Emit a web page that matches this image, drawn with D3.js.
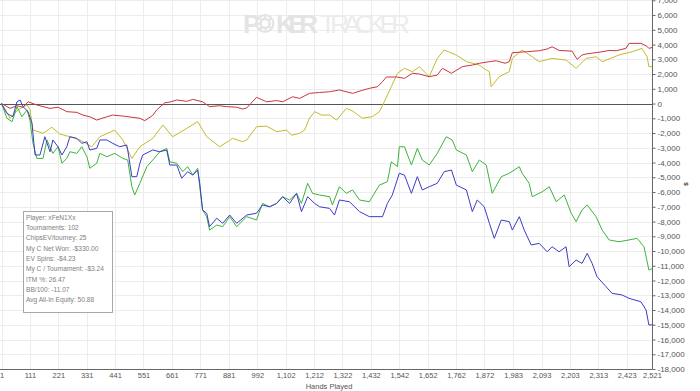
<!DOCTYPE html>
<html>
<head>
<meta charset="utf-8">
<script src="https://cdn.jsdelivr.net/npm/d3@7"></script>
<style>
  html, body { margin: 0; padding: 0; background: #fff; }
  svg { display: block; }
  text { font-family: "Liberation Sans", Arial, sans-serif; }
</style>
</head>
<body>
<svg id="chart"></svg>
<script>
const W = 700, H = 391;

// x ticks as shown on the axis (hands played)
const handTicks = [1, 111, 221, 331, 441, 551, 661, 771, 881, 992, 1102, 1212, 1322,
  1432, 1542, 1652, 1762, 1872, 1983, 2093, 2203, 2313, 2423, 2521];

// [hand, $]
const redLine = [[1,0],[22,-200],[34,-330],[61,-150],[84,-250],[104,120],[138,-100],[189,-330],[220,-250],
  [254,-550],[293,-600],[316,-780],[343,-900],[370,-1120],[409,-900],[432,-780],[471,-850],[510,-940],
  [537,-1000],[556,-1160],[587,-800],[602,-440],[633,50],[653,100],[680,240],[719,150],[742,280],[780,120],
  [807,-210],[846,-150],[873,-210],[912,-250],[935,-370],[951,-300],[989,420],[1028,120],[1067,200],
  [1090,120],[1129,460],[1156,350],[1194,690],[1233,750],[1272,800],[1310,920],[1361,690],[1399,900],
  [1426,1030],[1457,1140],[1477,1480],[1492,1800],[1531,1800],[1562,1710],[1593,2050],[1620,2000],
  [1658,1820],[1689,1930],[1709,2390],[1744,2050],[1786,2500],[1825,2610],[1852,2730],[1891,2840],
  [1918,2900],[1952,2730],[1968,2840],[1980,3450],[2034,3510],[2084,3580],[2115,3700],[2134,3850],
  [2161,3600],[2212,3550],[2227,3100],[2231,3000],[2250,3290],[2266,3360],[2328,3510],[2355,3600],
  [2382,3580],[2420,3740],[2432,4080],[2478,4080],[2500,3900],[2509,3740],[2521,3800]];

const yellowLine = [[1,0],[22,-600],[34,-1000],[61,-500],[73,-330],[100,-100],[111,-400],[123,-1800],
  [162,-2020],[196,-1610],[227,-2070],[266,-2250],[305,-2470],[351,-2930],[382,-2250],[440,-1800],
  [471,-2470],[506,-3720],[537,-2930],[587,-2360],[626,-1460],[664,-2250],[719,-1680],[761,-1230],
  [796,-2250],[846,-2930],[885,-2500],[896,-2360],[935,-2590],[951,-2470],[989,-1570],[1028,-1530],
  [1067,-1910],[1105,-1800],[1125,-2140],[1156,-2020],[1175,-1800],[1194,-1000],[1214,-550],[1241,-780],
  [1272,-780],[1299,-1120],[1337,-330],[1361,-500],[1399,-1000],[1438,-890],[1465,-550],[1484,120],
  [1511,1140],[1535,2050],[1562,2390],[1593,2160],[1620,2500],[1658,1820],[1689,3060],[1716,3630],
  [1763,3290],[1802,2840],[1852,2610],[1879,2270],[1891,2160],[1898,1140],[1929,1820],[1968,2160],
  [1980,3060],[2018,3630],[2057,3170],[2084,2840],[2134,3060],[2188,2950],[2227,2390],[2266,3060],
  [2304,3170],[2328,2840],[2393,3290],[2444,3510],[2482,3740],[2502,3170],[2509,2500],[2521,2500]];

const greenLine = [[1,0],[22,-1000],[42,-1230],[61,-210],[80,-890],[100,-440],[111,-1120],[123,-2700],
  [138,-3720],[162,-3720],[177,-2470],[200,-3380],[220,-2930],[235,-4050],[254,-3720],[266,-3270],
  [293,-3380],[312,-2930],[332,-3610],[343,-4390],[370,-4050],[382,-3380],[409,-3610],[440,-3380],
  [471,-3720],[490,-3830],[506,-5640],[517,-6200],[537,-5410],[564,-4280],[587,-3830],[614,-3270],
  [641,-3040],[653,-3950],[680,-4050],[703,-4620],[722,-4280],[742,-4850],[761,-4390],[769,-5640],
  [780,-7220],[796,-7670],[807,-8580],[835,-8240],[858,-8350],[885,-7670],[912,-8350],[951,-7670],
  [989,-7900],[1012,-6770],[1040,-7000],[1067,-6770],[1090,-6320],[1117,-6540],[1144,-6090],[1163,-6770],
  [1187,-5410],[1206,-6090],[1233,-6200],[1272,-6320],[1283,-6880],[1310,-5640],[1337,-6090],[1361,-5860],
  [1388,-6540],[1426,-6660],[1465,-5530],[1496,-5300],[1511,-3950],[1535,-4280],[1542,-2930],[1562,-2930],
  [1589,-4170],[1612,-3040],[1631,-3830],[1658,-4170],[1689,-3380],[1724,-2250],[1747,-2470],[1763,-3150],
  [1802,-3490],[1825,-4620],[1852,-3830],[1879,-4170],[1902,-6090],[1937,-4960],[1968,-4730],[2007,-4280],
  [2018,-4730],[2045,-5410],[2057,-6320],[2096,-5980],[2123,-5640],[2150,-6660],[2181,-6200],[2208,-7440],
  [2227,-8010],[2250,-7220],[2270,-6880],[2304,-7670],[2328,-8580],[2355,-9250],[2393,-9370],[2432,-9250],
  [2463,-9140],[2490,-9710],[2509,-11290],[2521,-11200]];

const blueLine = [[1,0],[22,-670],[45,-890],[61,120],[73,240],[84,-210],[104,-550],[119,-1340],[131,-3490],
  [150,-3490],[169,-2250],[189,-3270],[200,-2470],[220,-2930],[235,-3490],[254,-2930],[266,-2250],
  [293,-2360],[312,-2700],[332,-2590],[343,-3150],[370,-3040],[382,-2470],[409,-2470],[432,-2700],
  [459,-2930],[486,-2810],[490,-3150],[506,-4960],[525,-4960],[537,-4050],[548,-3490],[587,-3150],
  [614,-3270],[641,-3150],[653,-4170],[680,-4170],[699,-5070],[722,-4620],[742,-4850],[761,-4510],
  [769,-5410],[780,-7220],[796,-7440],[807,-8350],[835,-7780],[858,-8120],[885,-7560],[912,-8120],
  [951,-7560],[989,-7440],[1012,-6880],[1040,-7000],[1067,-6770],[1090,-6320],[1117,-6770],[1144,-6090],
  [1163,-7330],[1187,-6320],[1214,-6770],[1233,-7000],[1272,-7110],[1291,-7560],[1310,-6540],[1349,-6660],
  [1388,-7330],[1426,-7670],[1477,-7670],[1496,-6770],[1515,-6200],[1542,-4730],[1562,-4850],[1589,-6090],
  [1612,-4960],[1631,-5860],[1658,-5640],[1689,-5410],[1716,-4620],[1744,-4510],[1763,-5530],[1802,-5860],
  [1825,-7330],[1844,-6540],[1871,-7000],[1891,-8120],[1910,-9140],[1937,-7900],[1968,-8010],[1980,-8580],
  [2007,-7670],[2026,-8580],[2053,-9590],[2084,-9480],[2115,-10050],[2134,-9710],[2161,-10050],[2188,-9710],
  [2200,-11070],[2227,-10610],[2250,-10840],[2270,-10160],[2289,-10840],[2308,-11740],[2343,-12420],
  [2366,-12870],[2405,-12980],[2432,-13210],[2478,-13440],[2498,-14000],[2509,-15020],[2521,-15000]];

const series = [
  { name: 'ev',    data: yellowLine, color: '#c4bb2c' },
  { name: 'net',   data: redLine,    color: '#c8373c' },
  { name: 'allin', data: greenLine,  color: '#3cb43c' },
  { name: 'won',   data: blueLine,   color: '#3c3cc8' }
];

const statLines = [
  'Player: xFeN1Xx',
  'Tournaments: 102',
  'ChipsEV/tourney: 25',
  'My C Net Won: -$330.00',
  'EV Spins: -$4.23',
  'My C / Tournament: -$3.24',
  'ITM %: 26.47',
  'BB/100: -11.07',
  'Avg All-In Equity: 50.88'
];

const plot = { left: 1.5, right: 652, top: 0.3, bottom: 369 };

const x = d3.scaleLinear().domain([1, 2521]).range([plot.left, plot.right]);
const y = d3.scaleLinear().domain([-18000, 7000]).range([plot.bottom, plot.top]);

const svg = d3.select('#chart').attr('width', W).attr('height', H);

// grid
const yTicks = d3.range(-18000, 7001, 1000);
svg.append('g').selectAll('line').data(yTicks).enter().append('line')
  .attr('x1', 0).attr('x2', plot.right)
  .attr('y1', d => Math.round(y(d)) + 0.5).attr('y2', d => Math.round(y(d)) + 0.5)
  .attr('stroke', '#ededed').attr('stroke-width', 1);
svg.append('g').selectAll('line').data(handTicks).enter().append('line')
  .attr('x1', d => Math.round(x(d)) + 0.5).attr('x2', d => Math.round(x(d)) + 0.5)
  .attr('y1', 0).attr('y2', plot.bottom)
  .attr('stroke', '#ededed').attr('stroke-width', 1);

// watermark
const wm = svg.append('g').attr('fill', '#e4e4e4');
wm.append('text').attr('x', 243).attr('y', 33).attr('font-family', 'Lato, sans-serif')
  .attr('font-weight', 900).attr('font-size', 26).text('P');
const chip = wm.append('g').attr('transform', 'translate(265,23.5)');
chip.append('circle').attr('r', 9.5).attr('fill', '#e4e4e4');
chip.append('circle').attr('r', 6.5).attr('fill', 'none').attr('stroke', '#fff')
  .attr('stroke-width', 1.6).attr('stroke-dasharray', '3 2.2');
chip.append('circle').attr('r', 3.2).attr('fill', '#fff');
wm.append('text').attr('x', 276).attr('y', 33).attr('font-family', 'Lato, sans-serif')
  .attr('font-weight', 900).attr('font-size', 26).attr('textLength', 42).text('KER');
wm.append('text').attr('x', 320).attr('y', 33).attr('font-family', 'Lato, sans-serif')
  .attr('font-weight', 300).attr('font-size', 26).attr('fill', '#ececec')
  .attr('textLength', 90).text('TRACKER');

// zero line
svg.append('line')
  .attr('x1', 0).attr('x2', plot.right)
  .attr('y1', Math.round(y(0)) + 0.5).attr('y2', Math.round(y(0)) + 0.5)
  .attr('stroke', '#555').attr('stroke-width', 1);

// lines
const line = d3.line().x(d => x(d[0])).y(d => y(d[1]));
svg.append('g').selectAll('path').data(series).enter().append('path')
  .attr('d', d => line(d.data))
  .attr('fill', 'none')
  .attr('stroke', d => d.color)
  .attr('stroke-width', 1)
  .attr('stroke-linejoin', 'round');

// right axis
const fmt = d3.format(',');
const yAxis = d3.axisRight(y).tickValues(yTicks).tickSize(3).tickPadding(2)
  .tickFormat(d => fmt(d).replace('\u2212', '-'));
const gy = svg.append('g').attr('transform', `translate(${plot.right + 0.5},0)`).call(yAxis);
gy.select('.domain').attr('stroke', '#666').attr('d', `M0,0V${plot.bottom}`);
gy.selectAll('.tick line').attr('stroke', '#666');
gy.selectAll('.tick text').attr('fill', '#555').attr('font-size', 8)
  .attr('font-family', '"Liberation Sans", Arial, sans-serif');

// bottom axis
const xAxis = d3.axisBottom(x).tickValues(handTicks).tickSize(0).tickPadding(3)
  .tickFormat(d => fmt(d));
const gx = svg.append('g').attr('transform', `translate(0,${Math.round(plot.bottom) + 0.5})`).call(xAxis);
gx.select('.domain').attr('stroke', '#666').attr('d', `M0,0H${plot.right + 0.5}`);
gx.selectAll('.tick text').attr('fill', '#555').attr('font-size', 7.5)
  .attr('font-family', '"Liberation Sans", Arial, sans-serif');

svg.append('text')
  .attr('x', 329).attr('y', 389)
  .attr('text-anchor', 'middle')
  .attr('font-size', 7.5).attr('fill', '#555')
  .text('Hands Played');

svg.append('text')
  .attr('transform', 'translate(686,184) rotate(-90)')
  .attr('text-anchor', 'middle').attr('dy', '0.35em')
  .attr('font-size', 6).attr('font-weight', 'bold').attr('fill', '#333')
  .text('$');

// stats box
const box = svg.append('g').attr('transform', 'translate(23.5,211.5)');
box.append('rect').attr('width', 89).attr('height', 101)
  .attr('fill', '#fff').attr('stroke', '#a8a8a8').attr('stroke-width', 1);
box.selectAll('text').data(statLines).enter().append('text')
  .attr('x', 2.5).attr('y', (d, i) => 8 + i * 10.35)
  .attr('font-family', '"Open Sans", "Noto Sans", sans-serif')
  .attr('font-size', 6.6).attr('fill', '#808080')
  .text(d => d);
</script>
</body>
</html>
